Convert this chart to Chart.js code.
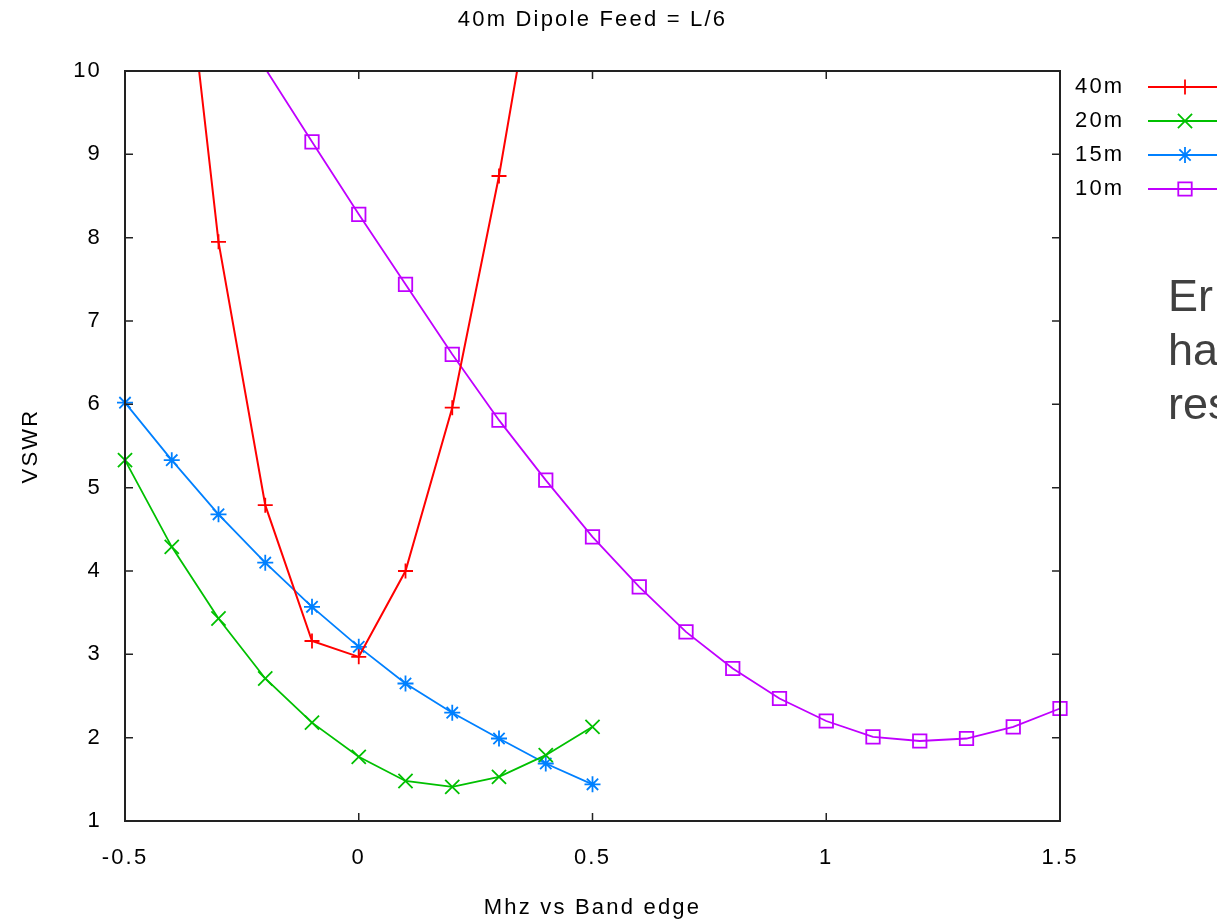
<!DOCTYPE html>
<html lang="en">
<head>
  <meta charset="UTF-8">
  <title>40m Dipole Feed = L/6</title>
  <script src="https://cdn.jsdelivr.net/npm/chart.js"></script>
  <style>
    html, body { margin: 0; padding: 0; background: #fff; overflow: hidden; }
    #wrap { position: relative; width: 1217px; height: 921px; overflow: hidden; }
    #note {
      position: absolute; left: 1168px; top: 269px;
      font: 45px/54px "Liberation Sans", Arial, sans-serif; color: #404040;
      white-space: nowrap;
    }
  </style>
</head>
<body>
<div id="wrap">
  <canvas id="vswrChart" width="1217" height="921"></canvas>
  <div id="note">Er<br>ha<br>res</div>
</div>

<script>
  // band edge offsets (MHz) and VSWR readings per band
  const labels = ['40m', '20m', '15m', '10m'];
  const chartTitle = '40m Dipole Feed = L/6';

  const x40 = [-0.4, -0.3, -0.2, -0.1, 0, 0.1, 0.2, 0.3, 0.4];
  const vswr40 = [12.9, 7.95, 4.79, 3.16, 2.97, 4.0, 5.96, 8.74, 12.0];

  const x20 = [-0.5, -0.4, -0.3, -0.2, -0.1, 0, 0.1, 0.2, 0.3, 0.4, 0.5];
  const vswr20 = [5.33, 4.29, 3.43, 2.71, 2.18, 1.77, 1.48, 1.41, 1.53, 1.79, 2.13];

  const x15 = [-0.5, -0.4, -0.3, -0.2, -0.1, 0, 0.1, 0.2, 0.3, 0.4, 0.5];
  const vswr15 = [6.02, 5.33, 4.68, 4.10, 3.57, 3.09, 2.65, 2.30, 1.99, 1.69, 1.44];

  const x10 = [-0.2, -0.1, 0, 0.1, 0.2, 0.3, 0.4, 0.5, 0.6, 0.7, 0.8, 0.9, 1.0, 1.1, 1.2, 1.3, 1.4, 1.5];
  const vswr10 = [10.03, 9.15, 8.28, 7.44, 6.60, 5.81, 5.09, 4.41, 3.81, 3.27, 2.83, 2.47, 2.20, 2.01, 1.96, 1.99, 2.13, 2.35];

  const xTicks = [-0.5, 0, 0.5, 1, 1.5];
  const yTicks = [1, 2, 3, 4, 5, 6, 7, 8, 9, 10];

  const X_MIN = -0.5, X_MAX = 1.5, Y_MIN = 1, Y_MAX = 10;
  const LETTER = '2.2px';
  const FONT = '"Liberation Sans", Arial, sans-serif';

  const styles = [
    { color: '#ff0000', width: 2, point: 'cross', r: 7.5 },
    { color: '#00c000', width: 1.8, point: 'crossRot', r: 10 },
    { color: '#0080ff', width: 1.8, point: 'star', r: 8 },
    { color: '#c000ff', width: 1.8, point: 'rect', r: 9.5 }
  ];

  function pairs(xs, ys) {
    return xs.map((x, i) => ({ x: x, y: ys[i] }));
  }

  const series = [pairs(x40, vswr40), pairs(x20, vswr20), pairs(x15, vswr15), pairs(x10, vswr10)];

  const datasets = series.map((pts, i) => ({
    label: labels[i],
    data: pts,
    borderColor: styles[i].color,
    borderWidth: styles[i].width,
    pointStyle: styles[i].point,
    pointRadius: c => (c.raw && c.raw.y > Y_MAX ? 0 : styles[i].r),
    pointHoverRadius: styles[i].r,
    pointBorderColor: styles[i].color,
    pointBackgroundColor: 'rgba(0,0,0,0)',
    pointBorderWidth: 1.8,
    tension: 0,
    fill: false,
    clip: { left: 20, right: 20, top: 0, bottom: 20 }
  }));

  // gnuplot style frame: title over the plot, border, inward ticks, key on the right
  const gnuplotFrame = {
    id: 'gnuplotFrame',
    beforeLayout(chart) { chart.ctx.letterSpacing = LETTER; },
    beforeDraw(chart) { chart.ctx.letterSpacing = LETTER; },
    afterDatasetsDraw(chart) {
      const { ctx, chartArea: a, scales } = chart;
      ctx.save();
      ctx.letterSpacing = LETTER;
      ctx.font = '22px ' + FONT;
      ctx.fillStyle = '#000';
      ctx.textBaseline = 'middle';
      ctx.textAlign = 'center';
      ctx.fillText(chartTitle, (a.left + a.right) / 2, 20);

      ctx.strokeStyle = '#222';
      ctx.lineWidth = 1.5;
      ctx.beginPath();
      xTicks.forEach(v => {
        const px = scales.x.getPixelForValue(v);
        ctx.moveTo(px, a.bottom); ctx.lineTo(px, a.bottom - 8);
        ctx.moveTo(px, a.top); ctx.lineTo(px, a.top + 8);
      });
      yTicks.forEach(v => {
        const py = scales.y.getPixelForValue(v);
        ctx.moveTo(a.left, py); ctx.lineTo(a.left + 8, py);
        ctx.moveTo(a.right, py); ctx.lineTo(a.right - 8, py);
      });
      ctx.stroke();
      ctx.lineWidth = 2;
      ctx.strokeRect(a.left, a.top, a.right - a.left, a.bottom - a.top);

      // key
      ctx.textAlign = 'left';
      chart.data.datasets.forEach((ds, i) => {
        const y = 87 + i * 34;
        ctx.fillStyle = '#000';
        ctx.fillText(ds.label, 1075, y);
        ctx.strokeStyle = styles[i].color;
        ctx.lineWidth = styles[i].width;
        ctx.beginPath();
        ctx.moveTo(1148, y); ctx.lineTo(1220, y);
        ctx.stroke();
        ctx.lineWidth = 1.8;
        ctx.fillStyle = 'rgba(0,0,0,0)';
        if (Chart.helpers && Chart.helpers.drawPoint) {
          Chart.helpers.drawPoint(ctx, { pointStyle: styles[i].point, radius: styles[i].r, borderWidth: 1.8, rotation: 0 }, 1185, y);
        }
      });
      ctx.restore();
    }
  };

  Chart.defaults.font.family = FONT;
  Chart.defaults.font.size = 22;
  Chart.defaults.color = '#000';

  const ctx = document.getElementById('vswrChart').getContext('2d');
  const vswrChart = new Chart(ctx, {
    type: 'line',
    data: { datasets: datasets },
    plugins: [gnuplotFrame],
    options: {
      responsive: false,
      animation: false,
      layout: { padding: { left: 0, right: 157, top: 71, bottom: 0 } },
      plugins: {
        legend: { display: false },
        tooltip: { enabled: false },
        title: { display: false }
      },
      scales: {
        x: {
          type: 'linear',
          min: X_MIN,
          max: X_MAX,
          grid: { display: false, drawTicks: false },
          border: { display: false },
          ticks: {
            stepSize: 0.5, padding: 24, color: '#000', maxRotation: 0,
            callback: v => String(Math.round(v * 10) / 10)
          },
          title: { display: true, text: 'Mhz vs Band edge', color: '#000', padding: { top: 0, bottom: 0 } },
          afterFit(scale) { scale.height = 100; }
        },
        y: {
          min: Y_MIN,
          max: Y_MAX,
          grid: { display: false, drawTicks: false },
          border: { display: false },
          ticks: { stepSize: 1, padding: 23, color: '#000' },
          title: { display: true, text: 'VSWR', color: '#000', padding: { top: 18, bottom: 0 } },
          afterFit(scale) { scale.width = 125; }
        }
      }
    }
  });
</script>
</body>
</html>
